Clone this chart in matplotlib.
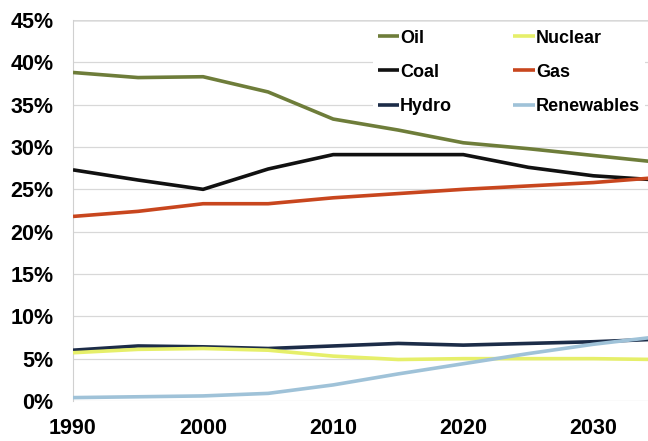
import matplotlib
matplotlib.use("Agg")
import matplotlib.pyplot as plt
from matplotlib.ticker import FuncFormatter

years = [1990, 1995, 2000, 2005, 2010, 2015, 2020, 2025, 2030, 2035]
oil = [38.8, 38.2, 38.3, 36.5, 33.3, 32.0, 30.5, 29.8, 29.0, 28.2]
coal = [27.3, 26.1, 25.0, 27.4, 29.1, 29.1, 29.1, 27.6, 26.6, 26.1]
gas = [21.8, 22.4, 23.3, 23.3, 24.0, 24.5, 25.0, 25.4, 25.8, 26.4]
hydro = [6.0, 6.5, 6.4, 6.2, 6.5, 6.8, 6.6, 6.8, 7.0, 7.3]
nuclear = [5.7, 6.1, 6.2, 6.0, 5.3, 4.9, 5.0, 5.0, 5.0, 4.9]
renewables = [0.4, 0.5, 0.6, 0.9, 1.9, 3.2, 4.4, 5.6, 6.7, 7.6]

yticks = [0, 5, 10, 15, 20, 25, 30, 35, 40, 45]
xticks = [1990, 2000, 2010, 2020, 2030]

plt.rcParams['font.family'] = ['Liberation Sans', 'DejaVu Sans']

fig = plt.figure(figsize=(6.48, 4.41), dpi=100)
ax = fig.add_axes([73/648, 40/441, 1 - 73/648, 381/441])

# legend fills column-wise: Oil, Coal, Hydro | Nuclear, Gas, Renewables
series = [
    ("Oil", oil, "#6e7d3a"),
    ("Coal", coal, "#111111"),
    ("Hydro", hydro, "#1c2c48"),
    ("Nuclear", nuclear, "#e6ef6a"),
    ("Gas", gas, "#c8461e"),
    ("Renewables", renewables, "#9fc2d8"),
]
for name, vals, col in series:
    ax.plot(years, vals, color=col, lw=2.6, label=name, solid_capstyle='butt', zorder=3)

ax.set_xlim(1990, 2034.2)
ax.set_ylim(0, 45)
ax.set_yticks(yticks)
ax.set_xticks(xticks)
ax.yaxis.set_major_formatter(FuncFormatter(lambda v, p: f"{int(v)}%"))
ax.grid(axis='y', color='#d8d8d8', lw=0.9, zorder=0)
ax.axhline(45, color='#888888', lw=1.0, zorder=1)
for s in ['top', 'right', 'bottom']:
    ax.spines[s].set_visible(False)
ax.spines['left'].set_color('#d0d0d0')
ax.tick_params(axis='both', length=0, labelsize=15.5)
ax.tick_params(axis='x', pad=12)
ax.tick_params(axis='y', pad=14)
for lbl in ax.get_xticklabels() + ax.get_yticklabels():
    lbl.set_fontweight('bold')

leg = ax.legend(ncol=2, loc='upper left', bbox_to_anchor=(373/648, 1 - 25/441),
                bbox_transform=fig.transFigure, frameon=True, fancybox=False,
                handlelength=1.2, handletextpad=0.05, columnspacing=3.4,
                labelspacing=0.95, borderpad=0.25, borderaxespad=0,
                prop={'weight': 'bold', 'size': 13})
leg.get_frame().set_facecolor('white')
leg.get_frame().set_edgecolor('none')
leg.get_frame().set_alpha(1)
leg.set_zorder(5)

fig.savefig("out.png", dpi=100)
